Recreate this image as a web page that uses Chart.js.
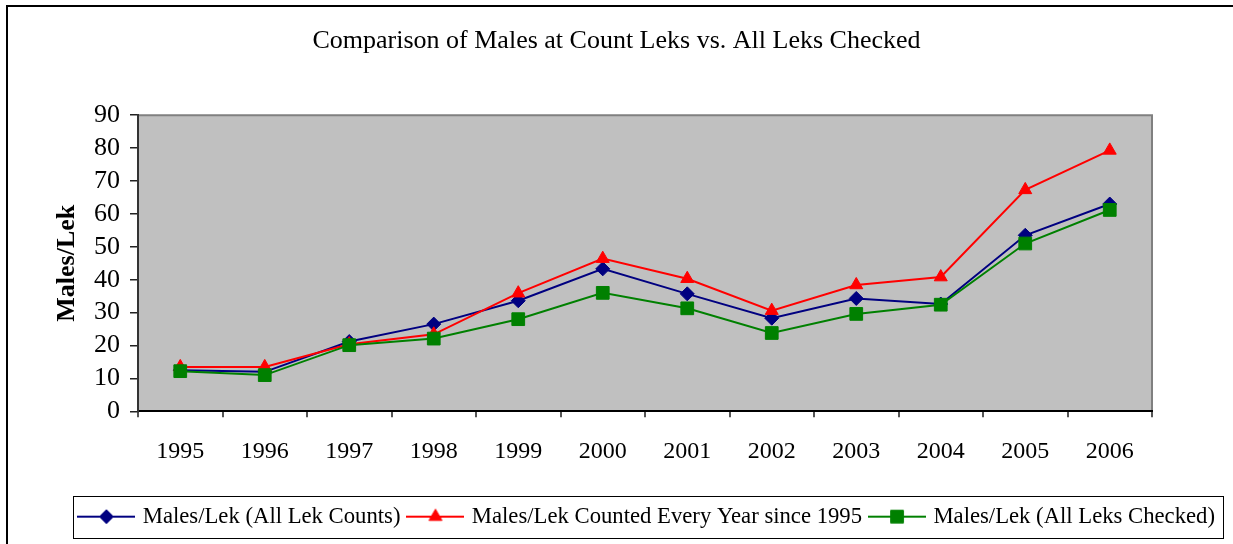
<!DOCTYPE html>
<html>
<head>
<meta charset="utf-8">
<script src="https://cdn.jsdelivr.net/npm/chart.js@4"></script>
<style>
  html, body { margin: 0; padding: 0; background: #fff; }
  #wrap { width: 1233px; height: 544px; }
</style>
</head>
<body>
<div id="wrap"><canvas id="lekChart" width="1233" height="544"></canvas></div>
<script>
const years = ['1995', '1996', '1997', '1998', '1999', '2000', '2001', '2002', '2003', '2004', '2005', '2006'];
const allLekCounts = [12.5, 12.0, 21.2, 26.5, 33.6, 43.3, 35.7, 28.3, 34.3, 32.6, 53.5, 63.0];
const countedEveryYear = [13.5, 13.5, 20.4, 23.4, 35.9, 46.4, 40.3, 30.6, 38.4, 40.8, 67.3, 79.3];
const allLeksChecked = [12.2, 11.0, 20.1, 22.1, 28.0, 36.0, 31.3, 23.8, 29.6, 32.4, 51.0, 61.2];
const yTicks = [0, 10, 20, 30, 40, 50, 60, 70, 80, 90];

const seriesNames = [
  'Males/Lek (All Lek Counts)',
  'Males/Lek Counted Every Year since 1995',
  'Males/Lek (All Leks Checked)'
];

const SERIF = '"Liberation Serif", "Times New Roman", serif';

// little line+marker picture for the legend, like Excel draws it
function legendSymbol(color, style, radius) {
  const c = document.createElement('canvas');
  c.width = 58; c.height = 20;
  const g = c.getContext('2d');
  g.strokeStyle = color; g.fillStyle = color; g.lineWidth = 2;
  g.beginPath(); g.moveTo(0, 10); g.lineTo(58, 10); g.stroke();
  g.lineWidth = 1;
  Chart.helpers.drawPoint(g, {pointStyle: style, radius: radius, rotation: 0, borderWidth: 1}, 29, 10);
  return c;
}

const symbols = [
  legendSymbol('#000080', 'rectRot', 7),
  legendSymbol('#FF0000', 'triangle', 7.5),
  legendSymbol('#008000', 'rect', 9)
];

const framePlugin = {
  id: 'frame',
  beforeDraw(chart) {
    const {ctx, chartArea: a} = chart;
    ctx.save();
    ctx.fillStyle = '#fff';
    ctx.fillRect(0, 0, chart.width, chart.height);
    ctx.strokeStyle = '#000';
    ctx.lineWidth = 2;
    ctx.beginPath();
    ctx.moveTo(7, chart.height);
    ctx.lineTo(7, 6);
    ctx.lineTo(chart.width, 6);
    ctx.stroke();
    ctx.fillStyle = '#C0C0C0';
    ctx.fillRect(a.left, a.top, a.right - a.left, a.bottom - a.top);
    ctx.strokeStyle = '#808080';
    ctx.beginPath();
    ctx.moveTo(a.left, a.top);
    ctx.lineTo(a.right, a.top);
    ctx.lineTo(a.right, a.bottom);
    ctx.stroke();
    ctx.restore();
  },
  afterDraw(chart) {
    const hb = chart.legend.legendHitBoxes;
    if (!hb || !hb.length) return;
    const left = Math.min(...hb.map(b => b.left)) - 8;
    const right = Math.max(...hb.map(b => b.left + b.width)) + 8;
    const mid = hb[0].top + hb[0].height / 2;
    const ctx = chart.ctx;
    ctx.save();
    ctx.strokeStyle = '#000';
    ctx.lineWidth = 1;
    ctx.strokeRect(Math.round(left) + 0.5, Math.round(mid - 21) + 0.5, Math.round(right - left), 42);
    ctx.restore();
  }
};

const ctx = document.getElementById('lekChart');

new Chart(ctx, {
  type: 'line',
  data: {
    labels: years,
    datasets: [{
      label: seriesNames[0],
      data: allLekCounts,
      borderColor: '#000080',
      backgroundColor: '#000080',
      borderWidth: 2,
      pointStyle: 'rectRot',
      pointRadius: 7,
      pointBorderWidth: 1,
      order: 2
    }, {
      label: seriesNames[1],
      data: countedEveryYear,
      borderColor: '#FF0000',
      backgroundColor: '#FF0000',
      borderWidth: 2,
      pointStyle: 'triangle',
      pointRadius: 7.5,
      pointBorderWidth: 1,
      order: 1
    }, {
      label: seriesNames[2],
      data: allLeksChecked,
      borderColor: '#008000',
      backgroundColor: '#008000',
      borderWidth: 2,
      pointStyle: 'rect',
      pointRadius: 9,
      pointBorderWidth: 1,
      order: 0
    }]
  },
  options: {
    responsive: false,
    animation: false,
    layout: {padding: {left: 8, right: 8, top: 5, bottom: 6}},
    plugins: {
      title: {
        display: true,
        text: 'Comparison of Males at Count Leks vs. All Leks Checked',
        color: '#000',
        font: {family: SERIF, size: 26, weight: 'normal'},
        padding: {top: 21, bottom: 58}
      },
      legend: {
        position: 'bottom',
        align: 'end',
        labels: {
          color: '#000',
          font: {family: SERIF, size: 22.7},
          usePointStyle: true,
          pointStyleWidth: 50,
          padding: 10,
          generateLabels: chart => seriesNames.map((name, i) => ({
            text: name,
            pointStyle: symbols[i],
            fillStyle: chart.data.datasets[i].borderColor,
            strokeStyle: chart.data.datasets[i].borderColor,
            lineWidth: 0,
            fontColor: '#000',
            hidden: false,
            datasetIndex: i
          }))
        }
      },
      tooltip: {enabled: false}
    },
    scales: {
      x: {
        offset: true,
        grid: {
          offset: true,
          drawOnChartArea: false,
          drawTicks: true,
          tickLength: 6,
          color: '#555',
          lineWidth: 2
        },
        border: {display: true, color: '#000', width: 2},
        ticks: {color: '#000', font: {family: SERIF, size: 24}, padding: 20, maxRotation: 0},
        afterFit: s => { s.height = 84; }
      },
      y: {
        min: 0,
        max: 90,
        afterBuildTicks: s => { s.ticks = yTicks.map(v => ({value: v})); },
        grid: {
          drawOnChartArea: false,
          drawTicks: true,
          tickLength: 8,
          color: '#222',
          lineWidth: 1.5
        },
        border: {display: true, color: '#333', width: 2},
        ticks: {color: '#000', font: {family: SERIF, size: 26}, padding: 10, autoSkip: false},
        title: {
          display: true,
          text: 'Males/Lek',
          color: '#000',
          font: {family: SERIF, size: 26, weight: 'bold'},
          padding: {top: 44, bottom: 0}
        },
        afterFit: s => { s.width = 130; }
      },
      y2: {
        position: 'right',
        display: true,
        grid: {display: false},
        border: {display: false},
        ticks: {display: false},
        afterFit: s => { s.width = 73; }
      }
    }
  },
  plugins: [framePlugin]
});
</script>
</body>
</html>
